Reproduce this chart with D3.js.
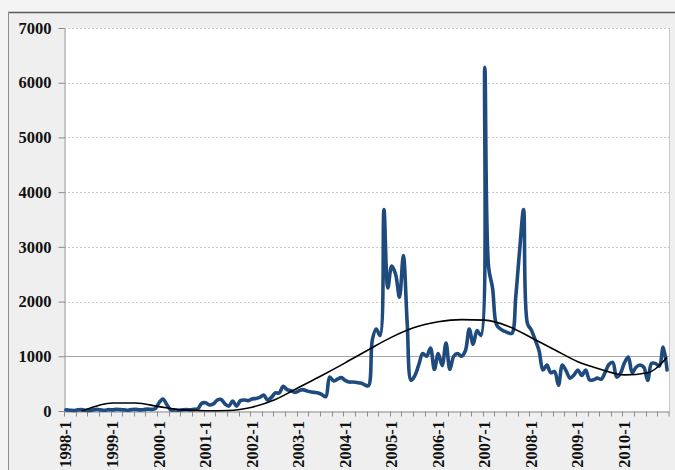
<!DOCTYPE html>
<html>
<head>
<meta charset="utf-8">
<script src="https://cdn.jsdelivr.net/npm/d3@7"></script>
<style>
  html, body { margin: 0; padding: 0; background: #f2f2f2; }
  svg { display: block; }
</style>
</head>
<body>
<svg id="chart" width="675" height="470"></svg>
<script>
// ---- data ----
const years = [1998, 1999, 2000, 2001, 2002, 2003, 2004, 2005, 2006, 2007, 2008, 2009, 2010];
const yTicks = [0, 1000, 2000, 3000, 4000, 5000, 6000, 7000];

// monthly values, 1998-1 .. 2010-12
const values = [
  20, 15, 10, 20, 25, 15, 10, 20, 30, 20, 15, 25,          // 1998
  20, 30, 25, 20, 15, 25, 30, 20, 25, 35, 30, 40,          // 1999
  150, 220, 120, 20, 20, 15, 20, 25, 20, 30, 40, 140,      // 2000
  150, 110, 130, 200, 210, 130, 90, 180, 90, 190, 200, 190, // 2001
  220, 230, 250, 290, 200, 250, 330, 330, 450, 390, 370, 340, // 2002
  365, 390, 370, 350, 340, 330, 300, 260, 620, 550, 580, 610, // 2003
  560, 530, 530, 520, 510, 480, 460, 1300, 1500, 1380, 3680, 2250, // 2004
  2650, 2500, 2080, 2840, 1600, 560, 650, 850, 1050, 1000, 1150, 760, // 2005
  1050, 830, 1240, 760, 1000, 1050, 1000, 1100, 1500, 1220, 1470, 1380, // 2006
  6280, 2620, 2250, 1580, 1500, 1460, 1430, 1420, 2100, 2950, 3680, 1600, // 2007
  1480, 1300, 1100, 750, 840, 700, 720, 470, 840, 730, 600, 660, // 2008
  750, 650, 750, 570, 570, 600, 580, 700, 850, 890, 620, 690, // 2009
  880, 985, 700, 800, 840, 800, 560, 870, 870, 820, 1170, 750  // 2010
];

// trend line readings: month index -> value
const trendIndex = [4, 6, 9, 12, 18, 24, 30, 36, 42, 48, 54, 60, 66, 72, 78, 84, 90, 96, 102, 108, 114, 120, 126, 132, 138, 144, 150, 155];
const trendValue = [0, 45, 115, 145, 145, 80, 20, 5, 10, 70, 210, 430, 650, 880, 1120, 1350, 1530, 1630, 1670, 1660, 1550, 1340, 1120, 900, 760, 660, 700, 980];

// ---- build ----
const categories = [];
years.forEach(y => { for (let m = 1; m <= 12; m++) categories.push(y + "-" + m); });

const svg = d3.select("#chart");
const W = 675, H = 470;
const plot = { left: 64, right: 669, top: 28, bottom: 411 };
const FONT = "'Liberation Serif', 'Times New Roman', serif";

// outer frame
svg.append("rect").attr("x", 0).attr("y", 0).attr("width", W).attr("height", H).attr("fill", "#f4f4f4");
svg.append("rect").attr("x", 8).attr("y", 12).attr("width", W).attr("height", H).attr("fill", "#efefef");
svg.append("line").attr("x1", 8).attr("x2", W).attr("y1", 12.5).attr("y2", 12.5).attr("stroke", "#5a5a5a").attr("stroke-width", 1.6);
svg.append("line").attr("x1", 8.5).attr("x2", 8.5).attr("y1", 12).attr("y2", H).attr("stroke", "#8c8c8c").attr("stroke-width", 1);

// plot area
svg.append("rect").attr("x", plot.left).attr("y", plot.top)
  .attr("width", plot.right - plot.left).attr("height", plot.bottom - plot.top)
  .attr("fill", "#ffffff");
svg.append("line").attr("x1", plot.right + 0.5).attr("x2", plot.right + 0.5)
  .attr("y1", plot.top).attr("y2", plot.bottom).attr("stroke", "#c8c8c8");

const x = d3.scaleBand().domain(categories).range([plot.left, plot.right]).padding(0);
const xc = i => x(categories[i]) + x.bandwidth() / 2;
const y = d3.scaleLinear().domain([0, 7000]).range([plot.bottom, plot.top]);

// gridlines
svg.append("g").selectAll("line").data(yTicks.filter(v => v > 0)).join("line")
  .attr("x1", plot.left).attr("x2", plot.right)
  .attr("y1", d => Math.round(y(d)) + 0.5).attr("y2", d => Math.round(y(d)) + 0.5)
  .attr("stroke", d => d === 1000 ? "#a6a6a6" : "#c8c8c8")
  .attr("stroke-width", 1)
  .attr("stroke-dasharray", d => d === 1000 ? null : "2,2");

// y axis
const yAxis = d3.axisLeft(y).tickValues(yTicks).tickFormat(d3.format("d"))
  .tickSize(6).tickSizeOuter(0).tickPadding(7);
const gy = svg.append("g").attr("transform", `translate(${plot.left + 0.5},0)`).call(yAxis);
gy.select(".domain").attr("stroke", "#8c8c8c");
gy.selectAll(".tick line").attr("stroke", "#8c8c8c");
gy.selectAll("text").attr("font-family", FONT)
  .attr("font-weight", "bold").attr("font-size", 16.5).attr("fill", "#111");

// x axis
const tickCats = categories.filter((c, i) => i % 3 === 0);
const xAxis = d3.axisBottom(x).tickValues(tickCats).tickSize(5).tickSizeOuter(0).tickFormat("");
const gx = svg.append("g").attr("transform", `translate(0,${plot.bottom + 0.5})`).call(xAxis);
gx.select(".domain").attr("stroke", "#8c8c8c");
gx.selectAll(".tick").attr("transform", d => `translate(${Math.round(x(d)) + 0.5},0)`);
gx.selectAll(".tick line").attr("stroke", "#8c8c8c");
gx.append("line").attr("x1", plot.right).attr("x2", plot.right).attr("y1", 0).attr("y2", 5).attr("stroke", "#8c8c8c");

// x labels (every January)
const labelCats = categories.filter((c, i) => i % 12 === 0);
svg.append("g").selectAll("text").data(labelCats).join("text")
  .attr("transform", d => `translate(${x(d) + x.bandwidth() / 2 + 5.5},${plot.bottom + 10}) rotate(-90)`)
  .attr("text-anchor", "end")
  .attr("font-family", FONT)
  .attr("font-weight", "bold").attr("font-size", 16.5).attr("fill", "#111")
  .text(d => d);

// clip
svg.append("clipPath").attr("id", "clip").append("rect")
  .attr("x", plot.left).attr("y", plot.top - 2).attr("width", plot.right - plot.left).attr("height", plot.bottom - plot.top + 4);

// series line
const line = d3.line().x((d, i) => xc(i)).y(d => y(d)).curve(d3.curveCatmullRom.alpha(0.5));
svg.append("path").datum(values)
  .attr("clip-path", "url(#clip)")
  .attr("d", line).attr("fill", "none")
  .attr("stroke", "#1f4a7e").attr("stroke-width", 3.6)
  .attr("stroke-linejoin", "round").attr("stroke-linecap", "round");

// trend line
const trend = trendIndex.map((idx, k) => [idx, trendValue[k]]);
const tline = d3.line().x(d => xc(d[0])).y(d => y(d[1])).curve(d3.curveMonotoneX);
svg.append("path").datum(trend)
  .attr("d", tline).attr("fill", "none")
  .attr("stroke", "#000").attr("stroke-width", 1.6);
</script>
</body>
</html>
